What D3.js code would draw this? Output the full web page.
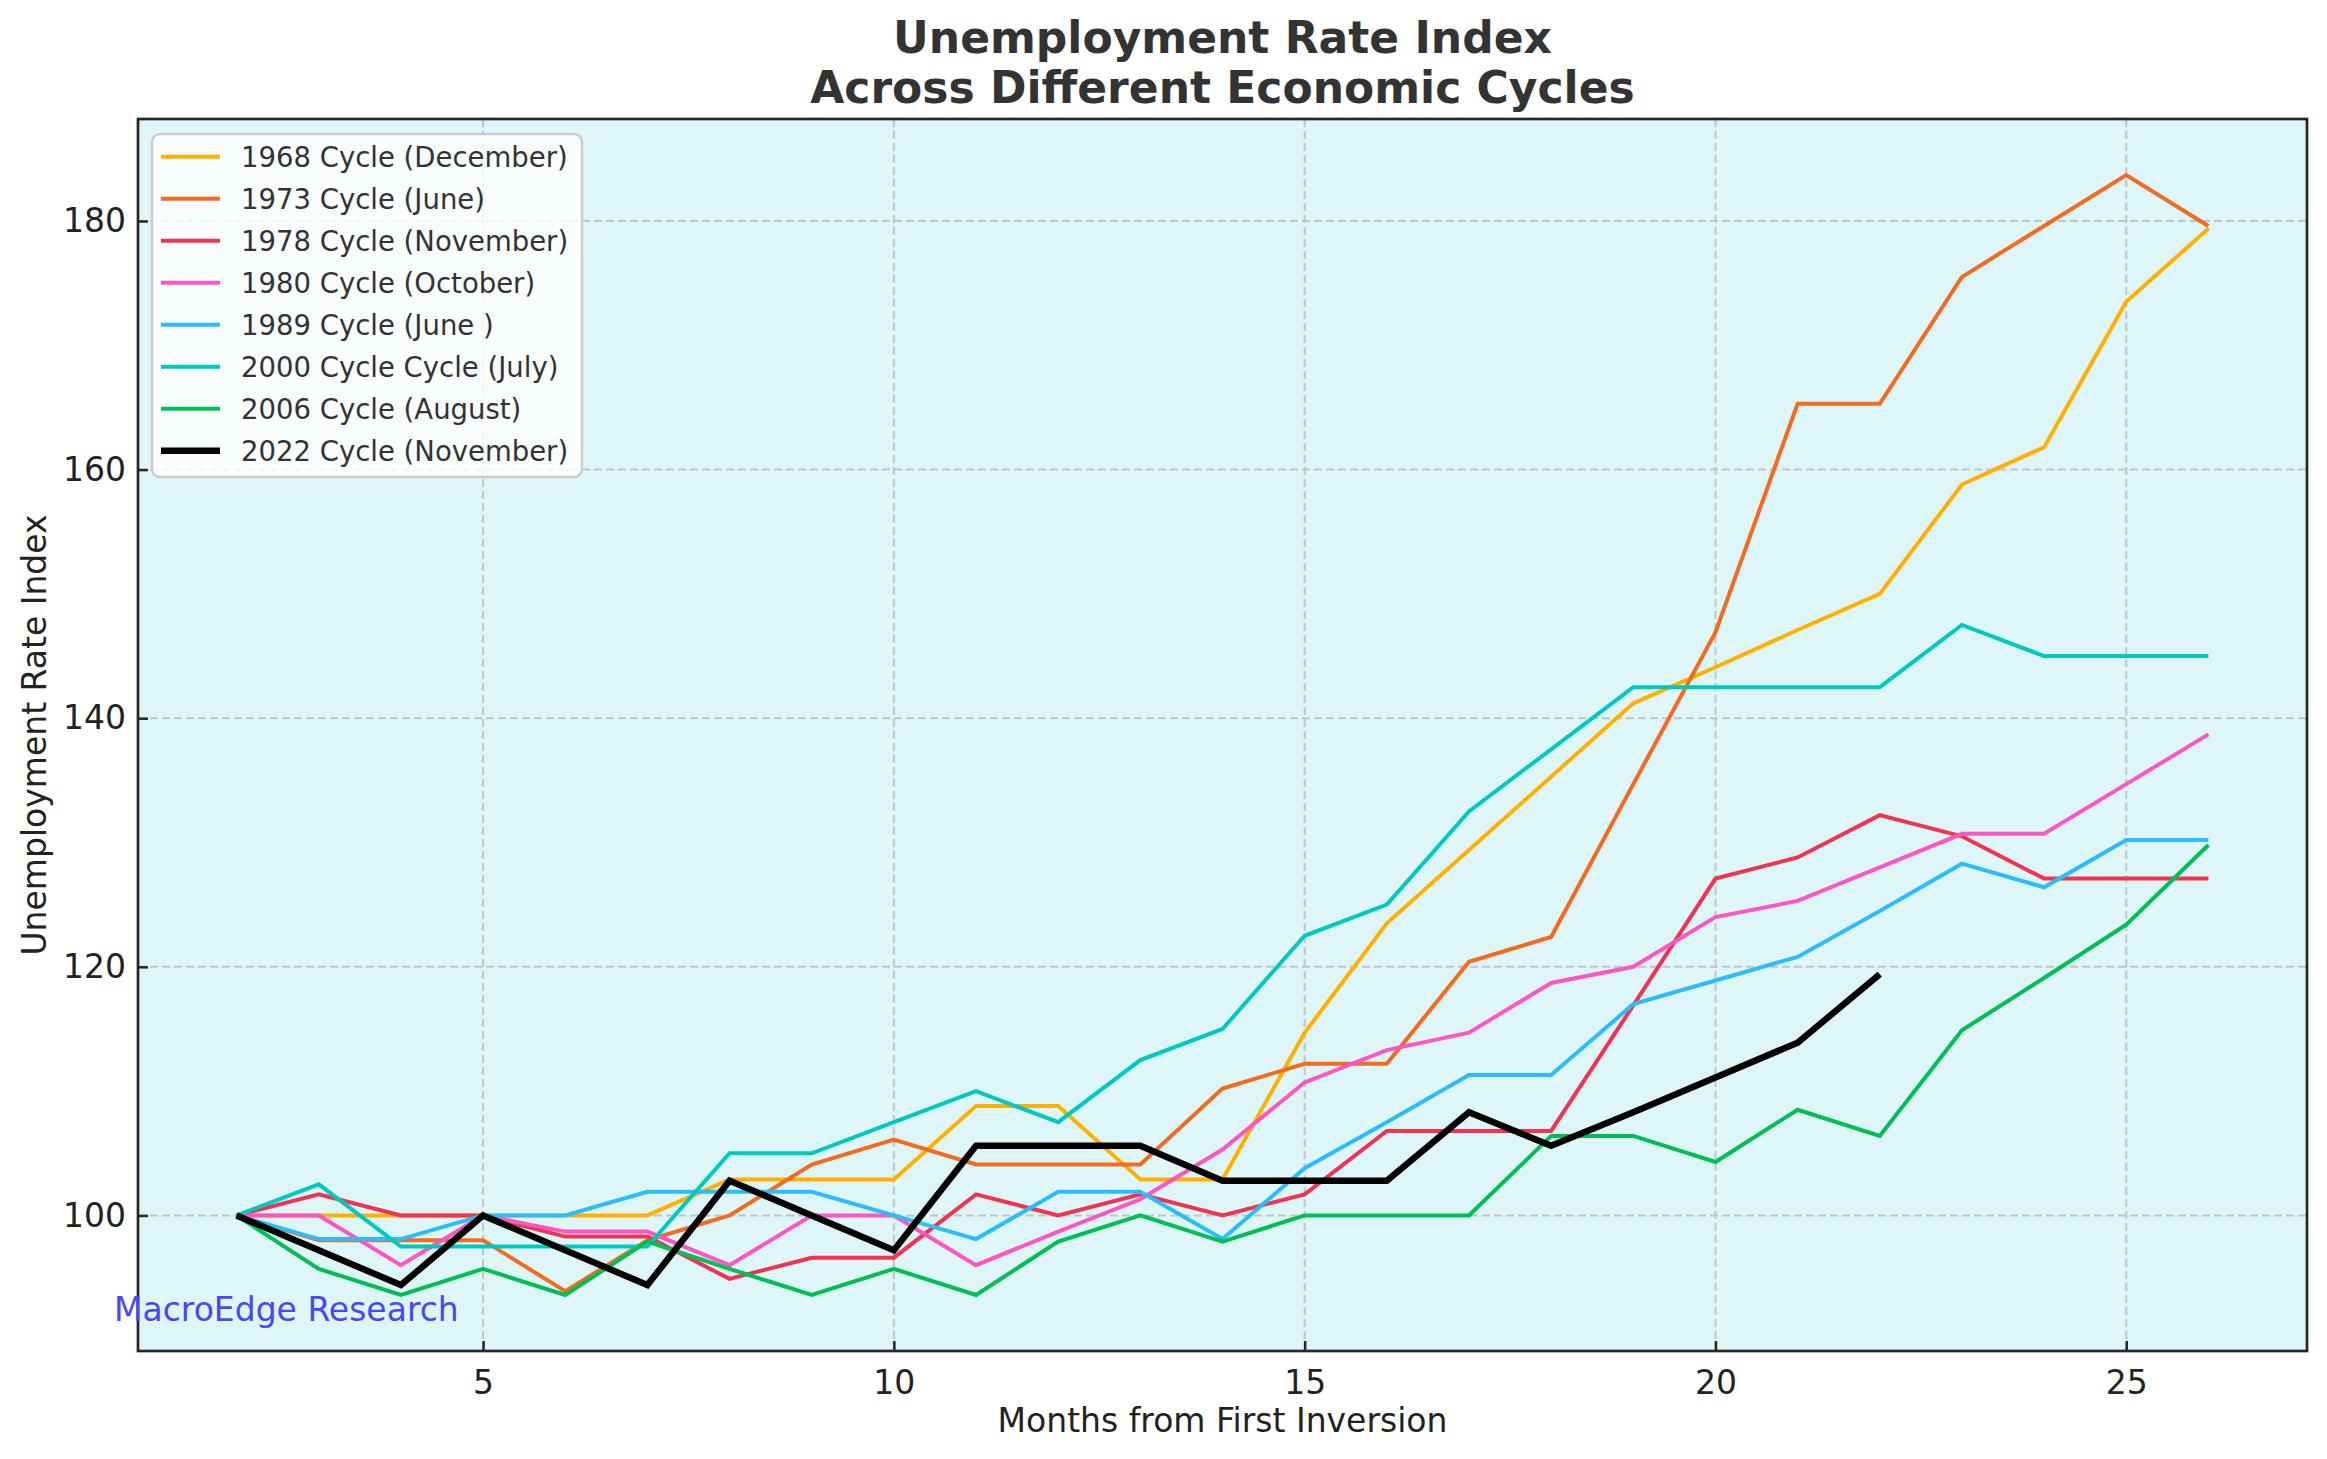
<!DOCTYPE html>
<html>
<head>
<meta charset="utf-8">
<script src="https://cdn.jsdelivr.net/npm/d3@7"></script>
<style>
  body { margin: 0; background: #fff; }
  text { font-family: "DejaVu Sans", sans-serif; }
</style>
</head>
<body>
<svg id="chart"></svg>
<script>
// months from first inversion
const months = [2, 3, 4, 5, 6, 7, 8, 9, 10, 11, 12, 13, 14, 15, 16, 17, 18, 19, 20, 21, 22, 23, 24, 25, 26];

// index values (base month = 100)
const cycle1968 = [100, 100, 100, 100, 100, 100, 102.9, 102.9, 102.9, 108.8, 108.8, 102.9, 102.9, 114.7, 123.5, 129.4, 135.3, 141.2, 144.1, 147.1, 150, 158.8, 161.8, 173.5, 179.4];
const cycle1973 = [100, 98, 98, 98, 93.9, 98, 100, 104.1, 106.1, 104.1, 104.1, 104.1, 110.2, 112.2, 112.2, 120.4, 122.4, 134.7, 146.9, 165.3, 165.3, 175.5, 179.6, 183.7, 179.6];
const cycle1978 = [100, 101.7, 100, 100, 98.3, 98.3, 94.9, 96.6, 96.6, 101.7, 100, 101.7, 100, 101.7, 106.8, 106.8, 106.8, 116.9, 127.1, 128.8, 132.2, 130.5, 127.1, 127.1, 127.1];
const cycle1980 = [100, 100, 96, 100, 98.7, 98.7, 96, 100, 100, 96, 98.7, 101.3, 105.3, 110.7, 113.3, 114.7, 118.7, 120, 124, 125.3, 128, 130.7, 130.7, 134.7, 138.7];
const cycle1989 = [100, 98.1, 98.1, 100, 100, 101.9, 101.9, 101.9, 100, 98.1, 101.9, 101.9, 98.1, 103.8, 107.5, 111.3, 111.3, 117, 118.9, 120.8, 124.5, 128.3, 126.4, 130.2, 130.2];
const cycle2000 = [100, 102.5, 97.5, 97.5, 97.5, 97.5, 105, 105, 107.5, 110, 107.5, 112.5, 115, 122.5, 125, 132.5, 137.5, 142.5, 142.5, 142.5, 142.5, 147.5, 145, 145, 145];
const cycle2006 = [100, 95.7, 93.6, 95.7, 93.6, 97.9, 95.7, 93.6, 95.7, 93.6, 97.9, 100, 97.9, 100, 100, 100, 106.4, 106.4, 104.3, 108.5, 106.4, 114.9, 119.1, 123.4, 129.8];
const cycle2022 = [100, 97.2, 94.4, 100, 97.2, 94.4, 102.8, 100, 97.2, 105.6, 105.6, 105.6, 102.8, 102.8, 102.8, 108.3, 105.6, 108.3, 111.1, 113.9, 119.4];

const seriesNames = ["1968 Cycle (December)", "1973 Cycle (June)", "1978 Cycle (November)", "1980 Cycle (October)",
  "1989 Cycle (June )", "2000 Cycle Cycle (July)", "2006 Cycle (August)", "2022 Cycle (November)"];
const seriesValues = [cycle1968, cycle1973, cycle1978, cycle1980, cycle1989, cycle2000, cycle2006, cycle2022];
const seriesColors = ["#ffb000", "#f26b21", "#f03352", "#fd55c3", "#2bbdfb", "#00c9bf", "#00bf55", "#000000"];

const xTicks = [5, 10, 15, 20, 25];
const yTicks = [100, 120, 140, 160, 180];

const W = 2327, H = 1459;
const m = { left: 138, right: 2307, top: 119, bottom: 1351 };

const svg = d3.select("#chart").attr("width", W).attr("height", H);

// matplotlib-like 5% margins
const xExt = d3.extent(months);
const allVals = seriesValues.flat();
const yExt = d3.extent(allVals);
const xPad = (xExt[1] - xExt[0]) * 0.05, yPad = (yExt[1] - yExt[0]) * 0.05;

const x = d3.scaleLinear().domain([xExt[0] - xPad, xExt[1] + xPad]).range([m.left, m.right]);
const y = d3.scaleLinear().domain([yExt[0] - yPad, yExt[1] + yPad]).range([m.bottom, m.top]);

// plot background
svg.append("rect")
  .attr("x", m.left).attr("y", m.top)
  .attr("width", m.right - m.left).attr("height", m.bottom - m.top)
  .attr("fill", "#dff6f8");

// grid
const grid = svg.append("g").attr("stroke", "#bdbdbd").attr("stroke-width", 2).attr("stroke-dasharray", "8,4").attr("opacity", 0.85);
grid.selectAll("line.gx").data(xTicks).join("line")
  .attr("x1", d => x(d)).attr("x2", d => x(d)).attr("y1", m.top).attr("y2", m.bottom);
grid.selectAll("line.gy").data(yTicks).join("line")
  .attr("y1", d => y(d)).attr("y2", d => y(d)).attr("x1", m.left).attr("x2", m.right);

// lines
const line = d3.line().x((d, i) => x(months[i])).y(d => y(d));
svg.append("g").selectAll("path")
  .data(seriesValues)
  .join("path")
  .attr("d", d => line(d))
  .attr("fill", "none")
  .attr("stroke", (d, i) => seriesColors[i])
  .attr("stroke-width", (d, i) => i === 7 ? 6.5 : 4)
  .attr("stroke-linejoin", "miter");

// axes (ticks pointing inward)
const xAxis = svg.append("g").attr("transform", `translate(0,${m.bottom})`)
  .call(d3.axisBottom(x).tickValues(xTicks).tickSize(-10).tickPadding(20));
const yAxis = svg.append("g").attr("transform", `translate(${m.left},0)`)
  .call(d3.axisLeft(y).tickValues(yTicks).tickSize(-10).tickPadding(12));
[xAxis, yAxis].forEach(a => {
  a.select(".domain").remove();
  a.selectAll(".tick line").attr("stroke", "#262626").attr("stroke-width", 2.5);
  a.selectAll(".tick text").attr("fill", "#222").style("font-size", "33px").style("font-family", "DejaVu Sans");
});
xAxis.selectAll(".tick text").attr("dy", "0.71em");

// spines
svg.append("rect")
  .attr("x", m.left).attr("y", m.top)
  .attr("width", m.right - m.left).attr("height", m.bottom - m.top)
  .attr("fill", "none").attr("stroke", "#262626").attr("stroke-width", 2.7);

// watermark
svg.append("text")
  .attr("x", m.left - 24).attr("y", m.bottom - 30)
  .attr("fill", "#4848f8")
  .style("font-size", "33px")
  .text("MacroEdge Research");

// titles
const cx = (m.left + m.right) / 2;
svg.append("text").attr("x", cx).attr("y", 53).attr("text-anchor", "middle")
  .attr("fill", "#333").style("font-size", "44px").style("font-weight", "bold")
  .text("Unemployment Rate Index");
svg.append("text").attr("x", cx).attr("y", 103).attr("text-anchor", "middle")
  .attr("fill", "#333").style("font-size", "44px").style("font-weight", "bold")
  .text("Across Different Economic Cycles");

svg.append("text").attr("x", cx).attr("y", 1432).attr("text-anchor", "middle")
  .attr("fill", "#222").style("font-size", "33px")
  .text("Months from First Inversion");
svg.append("text")
  .attr("transform", `translate(46,${(m.top + m.bottom) / 2}) rotate(-90)`)
  .attr("text-anchor", "middle")
  .attr("fill", "#222").style("font-size", "33px")
  .text("Unemployment Rate Index");

// legend
const lg = svg.append("g").attr("transform", "translate(152,134)");
lg.append("rect")
  .attr("width", 430).attr("height", 343).attr("rx", 8)
  .attr("fill", "#ffffff").attr("fill-opacity", 0.8)
  .attr("stroke", "#cccccc").attr("stroke-width", 2.5);
const rows = lg.selectAll("g.row").data(seriesNames).join("g")
  .attr("transform", (d, i) => `translate(0,${22.7 + i * 42})`);
rows.append("line")
  .attr("x1", 9).attr("x2", 68)
  .attr("stroke", (d, i) => seriesColors[i])
  .attr("stroke-width", (d, i) => i === 7 ? 6.5 : 4);
rows.append("text")
  .attr("x", 89).attr("dy", "0.36em")
  .attr("fill", "#333")
  .style("font-size", "27.5px")
  .text(d => d);
</script>
</body>
</html>
